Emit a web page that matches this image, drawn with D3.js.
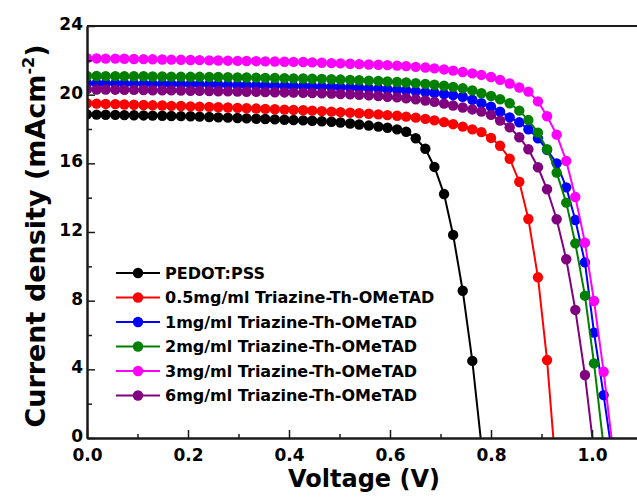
<!DOCTYPE html>
<html>
<head>
<meta charset="utf-8">
<script src="https://d3js.org/d3.v7.min.js"></script>
<style>
body { margin: 0; background: #fff; }
text { font-family: "DejaVu Sans", sans-serif; font-weight: bold; fill: #000; }
</style>
</head>
<body>
<div id="graph"></div>
<script>
// voltage steps shared by all J-V curves (V)
var voltage = [0, 0.019, 0.037, 0.056, 0.074, 0.093, 0.112, 0.130, 0.149, 0.167,
    0.186, 0.205, 0.223, 0.242, 0.260, 0.279, 0.298, 0.316, 0.335, 0.353,
    0.372, 0.391, 0.409, 0.428, 0.446, 0.465, 0.484, 0.502, 0.521, 0.539,
    0.558, 0.577, 0.595, 0.614, 0.632, 0.651, 0.670, 0.688, 0.707, 0.725,
    0.744, 0.763, 0.781, 0.800, 0.818, 0.837, 0.856, 0.874, 0.893, 0.911,
    0.930, 0.949, 0.967, 0.986, 1.004, 1.023, 1.042];

// current density (mA cm-2)
var pedot = [18.85, 18.84, 18.83, 18.82, 18.81, 18.80, 18.79, 18.78, 18.77, 18.76,
    18.75, 18.74, 18.72, 18.70, 18.68, 18.66, 18.64, 18.62, 18.60, 18.58,
    18.56, 18.54, 18.52, 18.50, 18.48, 18.45, 18.42, 18.38, 18.32, 18.26,
    18.20, 18.14, 18.07, 17.98, 17.84, 17.46, 16.85, 15.79, 14.21, 11.83,
    8.58, 4.49, -0.4];
var c05 = [19.50, 19.48, 19.46, 19.45, 19.43, 19.41, 19.40, 19.38, 19.37, 19.35,
    19.34, 19.32, 19.30, 19.29, 19.27, 19.25, 19.23, 19.21, 19.19, 19.17,
    19.15, 19.13, 19.11, 19.09, 19.07, 19.04, 19.01, 18.98, 18.95, 18.92,
    18.89, 18.85, 18.81, 18.77, 18.72, 18.66, 18.59, 18.50, 18.40, 18.28,
    18.14, 17.98, 17.82, 17.48, 17.02, 16.27, 14.93, 12.76, 9.36, 4.54,
    -2.4];
var c1 = [20.66, 20.66, 20.65, 20.65, 20.64, 20.64, 20.63, 20.63, 20.62, 20.62,
    20.61, 20.61, 20.60, 20.59, 20.58, 20.57, 20.56, 20.55, 20.54, 20.53,
    20.52, 20.51, 20.50, 20.49, 20.48, 20.47, 20.45, 20.43, 20.41, 20.39,
    20.37, 20.34, 20.31, 20.28, 20.24, 20.20, 20.15, 20.10, 20.04, 19.97,
    19.88, 19.70, 19.50, 19.30, 19.01, 18.68, 18.39, 17.98, 17.46, 16.78,
    16.00, 14.60, 12.70, 10.23, 6.14, 2.50, -1.4];
var c2 = [21.09, 21.09, 21.08, 21.08, 21.08, 21.07, 21.07, 21.06, 21.06, 21.05,
    21.05, 21.04, 21.04, 21.03, 21.03, 21.02, 21.01, 21.00, 20.99, 20.98,
    20.97, 20.96, 20.95, 20.94, 20.93, 20.92, 20.90, 20.88, 20.86, 20.84,
    20.82, 20.80, 20.77, 20.74, 20.71, 20.67, 20.63, 20.58, 20.52, 20.45,
    20.37, 20.25, 20.08, 19.92, 19.73, 19.50, 19.07, 18.52, 17.79, 16.82,
    15.46, 13.71, 11.34, 8.29, 4.35, -0.5];
var c3 = [22.12, 22.11, 22.10, 22.10, 22.09, 22.08, 22.07, 22.06, 22.05, 22.04,
    22.03, 22.02, 22.01, 22.00, 21.99, 21.98, 21.97, 21.96, 21.95, 21.94,
    21.93, 21.92, 21.91, 21.90, 21.88, 21.86, 21.84, 21.82, 21.80, 21.78,
    21.76, 21.74, 21.72, 21.69, 21.66, 21.62, 21.58, 21.53, 21.47, 21.40,
    21.32, 21.24, 21.15, 21.03, 20.86, 20.65, 20.42, 20.18, 19.61, 18.74,
    17.67, 16.14, 14.04, 11.38, 7.98, 3.86, -0.8];
var c6 = [20.31, 20.30, 20.30, 20.29, 20.28, 20.28, 20.27, 20.26, 20.25, 20.25,
    20.24, 20.23, 20.22, 20.21, 20.20, 20.19, 20.18, 20.17, 20.16, 20.15,
    20.14, 20.13, 20.12, 20.11, 20.10, 20.08, 20.06, 20.04, 20.02, 19.99,
    19.96, 19.92, 19.88, 19.84, 19.79, 19.73, 19.66, 19.58, 19.48, 19.37,
    19.25, 19.14, 19.01, 18.82, 18.49, 18.10, 17.52, 16.82, 15.77, 14.49,
    12.74, 10.41, 7.46, 3.67, -0.8];

var seriesNames = ["PEDOT:PSS", "0.5mg/ml Triazine-Th-OMeTAD", "1mg/ml Triazine-Th-OMeTAD",
    "2mg/ml Triazine-Th-OMeTAD", "3mg/ml Triazine-Th-OMeTAD", "6mg/ml Triazine-Th-OMeTAD"];
var seriesValues = [pedot, c05, c1, c2, c3, c6];
var seriesColors = ["#000000", "#ff0000", "#0000ff", "#008000", "#ff00ff", "#800080"];

var xTicks = [0, 0.2, 0.4, 0.6, 0.8, 1.0];
var xMinor = [0.1, 0.3, 0.5, 0.7, 0.9, 1.1];
var yTicks = [0, 4, 8, 12, 16, 20, 24];
var yMinor = [2, 6, 10, 14, 18, 22];

var width = 637, height = 497;
var plot = {left: 87, right: 642.5, top: 26, bottom: 438};

var xScale = d3.scaleLinear().domain([0, 1.1]).range([plot.left, plot.right]);
var yScale = d3.scaleLinear().domain([0, 24]).range([plot.bottom, plot.top]);

var svg = d3.select("#graph").append("svg")
    .attr("width", width)
    .attr("height", height)
    .style("display", "block");

svg.append("rect").attr("width", width).attr("height", height).attr("fill", "#fff");

svg.append("clipPath").attr("id", "clip")
    .append("rect")
    .attr("x", plot.left).attr("y", plot.top)
    .attr("width", plot.right - plot.left)
    .attr("height", plot.bottom - plot.top);

// curves
var lineGen = d3.line()
    .x(function(d) { return xScale(d[0]); })
    .y(function(d) { return yScale(d[1]); });

var curves = svg.append("g").attr("clip-path", "url(#clip)");

seriesValues.forEach(function(vals, i) {
    var pts = vals.map(function(j, k) { return [voltage[k], j]; });
    var g = curves.append("g");
    g.append("path")
        .datum(pts)
        .attr("d", lineGen)
        .attr("fill", "none")
        .attr("stroke", seriesColors[i])
        .attr("stroke-width", 2);
    g.selectAll("circle")
        .data(pts)
        .enter().append("circle")
        .attr("cx", function(d) { return xScale(d[0]); })
        .attr("cy", function(d) { return yScale(d[1]); })
        .attr("r", 5.2)
        .attr("fill", seriesColors[i]);
});

// axes, ticks point inward
svg.append("g")
    .attr("transform", "translate(0," + plot.bottom + ")")
    .call(d3.axisBottom(xScale).tickValues(xTicks).tickFormat(d3.format(".1f"))
        .tickSizeInner(-8).tickSizeOuter(0).tickPadding(11));
svg.append("g")
    .attr("transform", "translate(0," + plot.bottom + ")")
    .call(d3.axisBottom(xScale).tickValues(xMinor).tickFormat("")
        .tickSizeInner(-4).tickSizeOuter(0));

var yAxis = svg.append("g")
    .attr("transform", "translate(" + plot.left + ",0)")
    .call(d3.axisLeft(yScale).tickValues(yTicks)
        .tickSizeInner(-8).tickSizeOuter(0).tickPadding(4));
yAxis.selectAll(".tick text").attr("dy", "0.2em");
svg.append("g")
    .attr("transform", "translate(" + plot.left + ",0)")
    .call(d3.axisLeft(yScale).tickValues(yMinor).tickFormat("")
        .tickSizeInner(-5).tickSizeOuter(0));

svg.selectAll(".domain").attr("stroke", "#1a1a1a").attr("stroke-width", 2);
svg.selectAll(".tick line").attr("stroke", "#1a1a1a").attr("stroke-width", 1.5);
svg.selectAll(".tick text").style("font-size", "17px").attr("fill", "#000");

// top frame
svg.append("line")
    .attr("x1", plot.left).attr("x2", plot.right)
    .attr("y1", plot.top).attr("y2", plot.top)
    .attr("stroke", "#1a1a1a").attr("stroke-width", 2);

// axis titles
svg.append("text")
    .attr("x", 364).attr("y", 487)
    .attr("text-anchor", "middle")
    .style("font-size", "24px")
    .text("Voltage (V)");

var yTitle = svg.append("text")
    .attr("transform", "translate(45," + ((plot.top + plot.bottom) / 2 + 4) + ") rotate(-90)")
    .attr("text-anchor", "middle")
    .style("font-size", "27px");
yTitle.append("tspan").text("Current density (mAcm");
yTitle.append("tspan").attr("dy", -11).style("font-size", "16px").text("-2");
yTitle.append("tspan").attr("dy", 11).text(")");

// legend
var legend = svg.append("g");
seriesNames.forEach(function(name, i) {
    var y = 273 + i * 24.5;
    legend.append("line")
        .attr("x1", 116).attr("x2", 160)
        .attr("y1", y).attr("y2", y)
        .attr("stroke", seriesColors[i]).attr("stroke-width", 2);
    legend.append("circle")
        .attr("cx", 138).attr("cy", y).attr("r", 5.2)
        .attr("fill", seriesColors[i]);
    legend.append("text")
        .attr("x", 165).attr("y", y)
        .attr("dy", "0.36em")
        .style("font-size", "16px")
        .text(name);
});
</script>
</body>
</html>
